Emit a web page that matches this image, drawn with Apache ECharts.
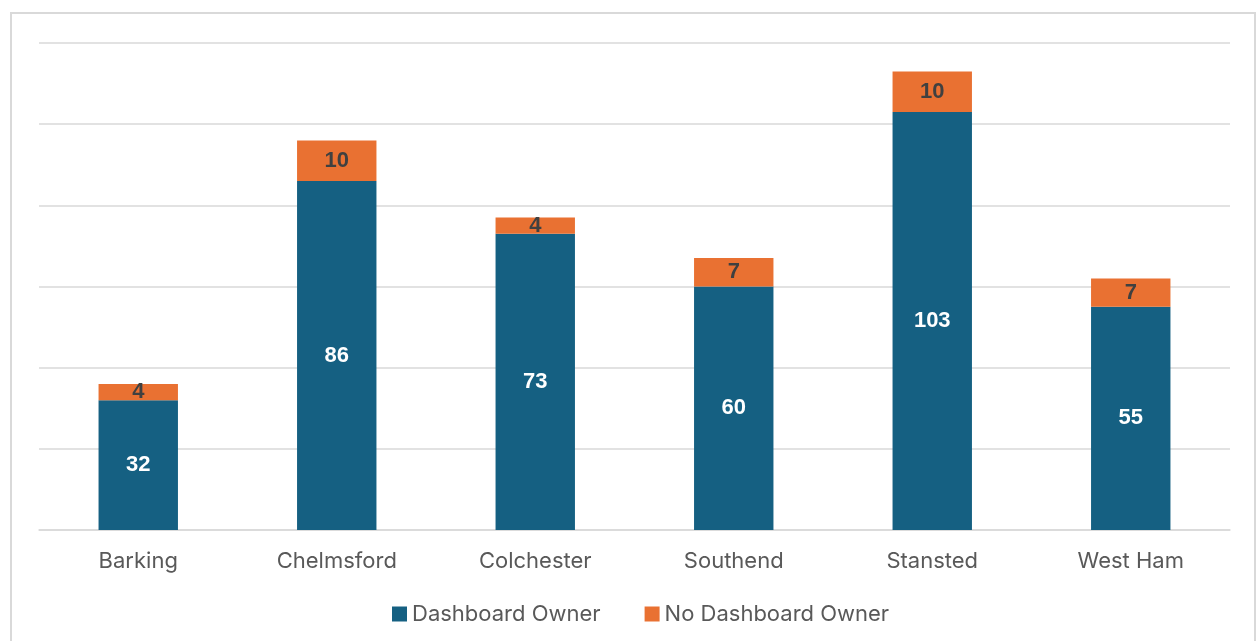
<!DOCTYPE html>
<html>
<head>
<meta charset="utf-8">
<script src="https://cdn.jsdelivr.net/npm/echarts@6/dist/echarts.min.js"></script>
<style>
  html, body { margin: 0; padding: 0; background: #ffffff; }
  #frame {
    position: absolute; left: 10px; top: 12px; width: 1246px; height: 640px;
    border: 2px solid #d9d9d9; box-sizing: border-box;
  }
  #chart { position: absolute; left: 0; top: 0; width: 1260px; height: 641px; }
</style>
</head>
<body>
<div id="frame"></div>
<div id="chart"></div>
<script>
// Sites and owner counts
const categories = ['Barking', 'Chelmsford', 'Colchester', 'Southend', 'Stansted', 'West Ham'];
const dashboardOwner = [32, 86, 73, 60, 103, 55];
const noDashboardOwner = [4, 10, 4, 7, 10, 7];
const seriesNames = ['Dashboard Owner', 'No Dashboard Owner'];

const FONT = 'Inter, "Open Sans", sans-serif';
const LABEL_FONT = '"Liberation Sans", Arial, sans-serif';
const chart = echarts.init(document.getElementById('chart'), null, { renderer: 'canvas' });

chart.setOption({
  animation: false,
  textStyle: { fontFamily: FONT },
  grid: { left: 39, right: 30, top: 43, bottom: 111, containLabel: false },
  legend: {
    bottom: 11,
    left: 387,
    itemWidth: 15,
    itemHeight: 15,
    itemGap: 44,
    itemTextGap: 6,
    icon: 'rect',
    textStyle: { fontSize: 22, color: '#595959', fontFamily: FONT },
    data: seriesNames
  },
  xAxis: {
    type: 'category',
    data: categories,
    axisLine: { show: true, lineStyle: { color: '#d9d9d9', width: 1.5 } },
    axisTick: { show: false },
    axisLabel: { fontSize: 22, color: '#595959', margin: 20, fontFamily: FONT }
  },
  yAxis: {
    type: 'value',
    min: 0,
    max: 120,
    interval: 20,
    axisLabel: { show: false },
    axisLine: { show: false },
    axisTick: { show: false },
    splitLine: { lineStyle: { color: '#d9d9d9', width: 1.5 } }
  },
  series: [
    {
      name: seriesNames[0],
      type: 'bar',
      stack: 'owners',
      barWidth: '40%',
      data: dashboardOwner,
      itemStyle: { color: '#156082' },
      label: {
        show: true, position: 'inside', color: '#ffffff',
        fontSize: 22, fontWeight: 'bold', fontFamily: LABEL_FONT
      }
    },
    {
      name: seriesNames[1],
      type: 'bar',
      stack: 'owners',
      barWidth: '40%',
      data: noDashboardOwner,
      itemStyle: { color: '#e97132' },
      label: {
        show: true, position: 'inside', color: '#404040',
        fontSize: 22, fontWeight: 'bold', fontFamily: LABEL_FONT
      }
    }
  ]
});
</script>
</body>
</html>
